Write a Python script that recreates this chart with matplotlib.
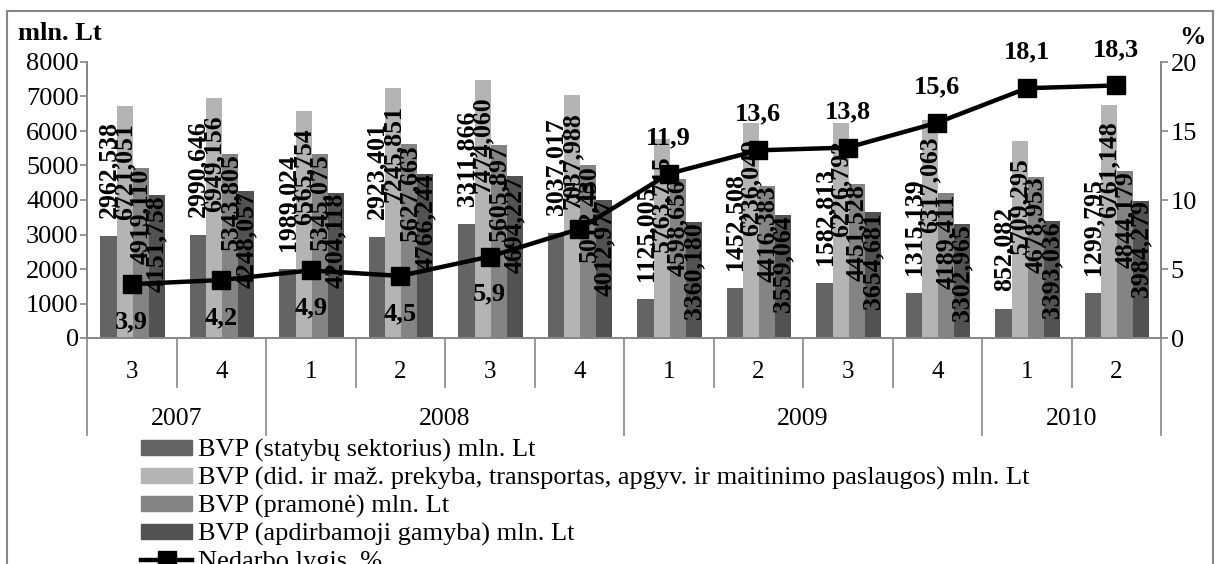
import numpy as np
import matplotlib
matplotlib.use("Agg")
import matplotlib.pyplot as plt
from matplotlib.patches import Rectangle
from matplotlib.lines import Line2D

plt.rcParams['font.family'] = ['Liberation Serif', 'DejaVu Serif']

# ---- data ----
quarters = ['3', '4', '1', '2', '3', '4', '1', '2', '3', '4', '1', '2']
years = ['2007', '2008', '2009', '2010']
year_bounds = [0, 2, 6, 10, 12]   # category index where each year starts/ends

statybos = [2962.538, 2990.646, 1989.024, 2923.401, 3311.866, 3037.017,
            1125.005, 1452.508, 1582.813, 1315.139, 852.082, 1299.795]
prekyba = [6721.051, 6949.156, 6565.754, 7245.851, 7474.060, 7037.988,
           5763.715, 6236.049, 6226.793, 6317.063, 5709.295, 6761.148]
pramone = [4919.110, 5343.805, 5345.075, 5627.663, 5605.897, 5012.430,
           4598.656, 4416.383, 4451.528, 4189.411, 4678.953, 4844.179]
gamyba = [4151.758, 4248.057, 4204.118, 4766.244, 4694.227, 4012.977,
          3360.180, 3559.064, 3654.681, 3302.965, 3393.036, 3984.279]
nedarbas = [3.9, 4.2, 4.9, 4.5, 5.9, 7.9, 11.9, 13.6, 13.8, 15.6, 18.1, 18.3]

names = ['BVP (statybų sektorius) mln. Lt',
         'BVP (did. ir maž. prekyba, transportas, apgyv. ir maitinimo paslaugos) mln. Lt',
         'BVP (pramonė) mln. Lt',
         'BVP (apdirbamoji gamyba) mln. Lt']
line_name = 'Nedarbo lygis, %'
colors = ['#646464', '#b4b4b4', '#848484', '#525252']
gray = '#868686'
FS = 19

W, H = 1221, 564
fig = plt.figure(figsize=(W / 100, H / 100), dpi=100)
x0, x1, ytop, ybot = 87, 1161, 62, 338
ax = fig.add_axes([x0 / W, 1 - ybot / H, (x1 - x0) / W, (ybot - ytop) / H])
ax2 = ax.twinx()

x = np.arange(len(quarters)) + 0.5
bw = 0.18
series = [statybos, prekyba, pramone, gamyba]
bars = []
for i, (vals, c) in enumerate(zip(series, colors)):
    b = ax.bar(x + (i - 1.5) * bw + 0.01, vals, bw, color=c, label=names[i], zorder=2)
    bars.append(b)

def fmt(v):
    return ('%.3f' % v).replace('.', ',')

# value labels: first series outside, others inside the bar end
pads = [13, -12, 0, 0]
for b, vals, p in zip(bars, series, pads):
    for rect, v in zip(b, vals):
        ax.annotate(fmt(v), (rect.get_x() + rect.get_width() / 2, v),
                    xytext=(0, p), textcoords='offset points',
                    rotation=90, ha='center', va='bottom' if p > 0 else 'top',
                    fontsize=18.5, fontweight='bold', zorder=3)

ax.set_xlim(0, len(quarters))
ax.set_ylim(0, 8000)
ax.set_yticks(np.arange(0, 8001, 1000))
ax2.set_ylim(0, 20)
ax2.set_yticks([0, 5, 10, 15, 20])

ax2.plot(x, nedarbas, color='black', lw=3.2, marker='s', ms=12.5, zorder=5)
for i, v in enumerate(nedarbas):
    off = -27 if i < 5 else 26
    ax2.annotate(('%.1f' % v).replace('.', ','), (x[i], v), xytext=(0, off),
                 textcoords='offset points', ha='center', va='center',
                 fontsize=FS, fontweight='bold')

for a in (ax, ax2):
    a.spines['top'].set_visible(False)
    for s in ('left', 'right', 'bottom'):
        a.spines[s].set_color(gray)
        a.spines[s].set_linewidth(1.2)
    a.tick_params(axis='y', labelsize=FS, length=5, width=1.2, color=gray, pad=2)
    a.set_xticks([])
ax.tick_params(axis='y', pad=1)

# category axis with quarters and years
hpx = ybot - ytop
for k in range(len(quarters) + 1):
    depth = (435 - ybot) if k in year_bounds else (387 - ybot)
    ax.plot([k, k], [0, -depth / hpx], transform=ax.get_xaxis_transform(),
            color=gray, lw=1.2, clip_on=False)
for q, xi in zip(quarters, x):
    ax.text(xi, -(372 - ybot) / hpx, q, transform=ax.get_xaxis_transform(),
            ha='center', va='center', fontsize=18)
for j, yname in enumerate(years):
    xc = (year_bounds[j] + year_bounds[j + 1]) / 2
    ax.text(xc, -(419 - ybot) / hpx, yname, transform=ax.get_xaxis_transform(),
            ha='center', va='center', fontsize=18.5)

fig.text(18 / W, 1 - 33 / H, 'mln. Lt', fontsize=FS, fontweight='bold', va='center')
fig.text(1193 / W, 1 - 38 / H, '%', fontsize=FS, fontweight='bold', va='center', ha='center')

handles = [Rectangle((0, 0), 1, 1, color=c) for c in colors]
handles.append(Line2D([], [], color='black', lw=3.2, marker='s', ms=12.5))
fig.legend(handles, names + [line_name], loc='upper left',
           bbox_to_anchor=(141 / W, 1 - 439 / H), frameon=False, fontsize=FS,
           handlelength=1.95, handleheight=0.5, handletextpad=0.2,
           labelspacing=0.19, borderpad=0, borderaxespad=0)

fig.patches.append(Rectangle((7 / W, -0.05), (1213 - 7) / W, 1.05 - 11 / H,
                             transform=fig.transFigure, fill=False,
                             edgecolor=gray, lw=1.5))

fig.savefig('out.png', dpi=100)
